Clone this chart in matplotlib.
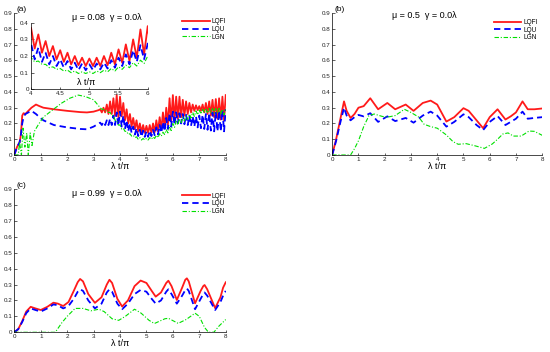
import numpy as np
import matplotlib
matplotlib.use('Agg')
import matplotlib.pyplot as plt

plt.rcParams['font.family'] = ['Liberation Sans', 'DejaVu Sans']

# ---- panel (a): mu = 0.08 ----
xa_start = [0, 0.1, 0.2, 0.25, 0.3, 0.35, 0.42, 0.53, 0.65, 0.82, 0.95, 1.1, 1.5, 2.0, 2.5, 2.75, 3.0, 3.1, 3.2]
lqfi_a_start = [0, 0.05, 0.08, 0.13, 0.25, 0.265, 0.26, 0.28, 0.3, 0.32, 0.31, 0.3, 0.29, 0.28, 0.272, 0.27, 0.275, 0.28, 0.285]
lqu_a_start = [0, 0.05, 0.08, 0.13, 0.2, 0.24, 0.26, 0.27, 0.28, 0.26, 0.24, 0.22, 0.19, 0.175, 0.165, 0.163, 0.18, 0.19, 0.2]

xg_a_start = [0, 0.15, 0.2, 0.27, 0.33, 0.4, 0.47, 0.53, 0.6, 0.67, 0.76, 0.9, 1.1, 1.48, 1.8, 2.1, 2.42, 2.7, 3.0, 3.2]
lgn_a_start = [0, 0, 0.08, 0.0, 0.17, 0.05, 0.14, 0.0, 0.14, 0.06, 0.15, 0.19, 0.24, 0.29, 0.33, 0.36, 0.38, 0.37, 0.35, 0.31]

# fast oscillating part, x = 3.25 ... 8.0, peaks and troughs
xa_osc = np.arange(3.25, 8.001, 0.0625)
lqfi_a_osc = [0.29, 0.27, 0.30, 0.27, 0.32, 0.26, 0.34, 0.26, 0.36, 0.25,
              0.38, 0.24, 0.37, 0.245, 0.33, 0.22, 0.29, 0.20, 0.26, 0.18,
              0.235, 0.165, 0.22, 0.15, 0.20, 0.145, 0.19, 0.14, 0.185, 0.14,
              0.19, 0.14, 0.20, 0.145, 0.22, 0.15, 0.24, 0.16, 0.27, 0.17,
              0.30, 0.19, 0.36, 0.21, 0.38, 0.22, 0.37, 0.23, 0.37, 0.24,
              0.35, 0.25, 0.34, 0.26, 0.33, 0.27, 0.32, 0.28, 0.315, 0.285,
              0.31, 0.28, 0.32, 0.27, 0.33, 0.26, 0.34, 0.25, 0.35, 0.24,
              0.355, 0.23, 0.36, 0.225, 0.37, 0.22, 0.38]
lqu_a_osc = [0.205, 0.19, 0.21, 0.19, 0.22, 0.19, 0.23, 0.19, 0.25, 0.19,
             0.27, 0.185, 0.275, 0.18, 0.25, 0.165, 0.22, 0.15, 0.20, 0.14,
             0.18, 0.13, 0.17, 0.12, 0.16, 0.115, 0.155, 0.115, 0.15, 0.115,
             0.155, 0.12, 0.16, 0.125, 0.175, 0.13, 0.19, 0.14, 0.21, 0.15,
             0.235, 0.165, 0.265, 0.18, 0.275, 0.19, 0.27, 0.20, 0.265, 0.20,
             0.26, 0.195, 0.255, 0.19, 0.25, 0.185, 0.245, 0.18, 0.245, 0.175,
             0.25, 0.17, 0.255, 0.165, 0.26, 0.16, 0.265, 0.155, 0.27, 0.15,
             0.275, 0.15, 0.28, 0.15, 0.285, 0.15, 0.29]
lgn_a_osc = [0.30, 0.29, 0.29, 0.28, 0.28, 0.27, 0.27, 0.25, 0.25, 0.22,
             0.22, 0.19, 0.19, 0.165, 0.17, 0.15, 0.15, 0.13, 0.135, 0.12,
             0.125, 0.11, 0.115, 0.10, 0.11, 0.095, 0.105, 0.095, 0.105, 0.095,
             0.11, 0.10, 0.115, 0.105, 0.125, 0.11, 0.135, 0.12, 0.145, 0.13,
             0.16, 0.14, 0.175, 0.155, 0.20, 0.175, 0.215, 0.19, 0.23, 0.205,
             0.24, 0.215, 0.25, 0.225, 0.26, 0.235, 0.27, 0.245, 0.28, 0.255,
             0.285, 0.26, 0.29, 0.265, 0.29, 0.265, 0.295, 0.265, 0.295, 0.265,
             0.295, 0.265, 0.295, 0.26, 0.29, 0.255, 0.29]

# ---- panel (b): mu = 0.5 ----
xb = [0, 0.15, 0.3, 0.45, 0.55, 0.7, 0.85, 1.0, 1.2, 1.45, 1.75, 2.1, 2.4, 2.8, 3.1, 3.45, 3.75, 4.0,
      4.35, 4.65, 5.0, 5.2, 5.5, 5.75, 6.0, 6.3, 6.6, 6.8, 7.0, 7.25, 7.45, 7.7, 8.0]
lqfi_b = [0, 0.1, 0.22, 0.34, 0.28, 0.235, 0.26, 0.3, 0.31, 0.36, 0.29, 0.33, 0.29, 0.32, 0.28, 0.33, 0.345, 0.32,
          0.212, 0.24, 0.297, 0.28, 0.22, 0.17, 0.24, 0.29, 0.225, 0.245, 0.27, 0.34, 0.29, 0.29, 0.295]
lqu_b = [0, 0.09, 0.2, 0.3, 0.25, 0.22, 0.24, 0.254, 0.245, 0.265, 0.21, 0.245, 0.215, 0.235, 0.205, 0.25, 0.275, 0.25,
         0.18, 0.21, 0.258, 0.24, 0.19, 0.158, 0.21, 0.247, 0.19, 0.21, 0.23, 0.275, 0.23, 0.235, 0.24]

xg_b = [0, 0.7, 0.85, 1.0, 1.2, 1.4, 1.6, 1.9, 2.1, 2.4, 2.75, 3.0, 3.3, 3.5, 3.75, 4.0, 4.35, 4.6, 4.8, 5.1,
        5.4, 5.8, 6.1, 6.3, 6.5, 6.7, 6.9, 7.2, 7.5, 7.7, 8.0]
lgn_b = [0, 0, 0.04, 0.09, 0.18, 0.25, 0.26, 0.245, 0.24, 0.25, 0.29, 0.27, 0.24, 0.195, 0.18, 0.17, 0.127, 0.085, 0.068, 0.072,
         0.06, 0.042, 0.07, 0.1, 0.133, 0.14, 0.12, 0.12, 0.152, 0.15, 0.125]

# ---- panel (c): mu = 0.99 ----
xc = [0, 0.15, 0.3, 0.45, 0.62, 0.8, 1.0, 1.25, 1.48, 1.65, 1.85, 2.05, 2.25, 2.4, 2.49, 2.6,
      2.8, 3.05, 3.3, 3.5, 3.6, 3.7, 3.9, 4.08, 4.3, 4.55, 4.78, 5.0, 5.2, 5.35, 5.55, 5.75,
      5.83, 5.95, 6.15, 6.35, 6.47, 6.53, 6.6, 6.84, 7.05, 7.15, 7.2, 7.3, 7.6, 7.8, 7.9, 8.0]
lqfi_c = [0, 0.02, 0.07, 0.13, 0.16, 0.15, 0.14, 0.16, 0.186, 0.18, 0.165, 0.19, 0.26, 0.315, 0.335, 0.32,
          0.24, 0.185, 0.22, 0.3, 0.33, 0.31, 0.21, 0.162, 0.2, 0.29, 0.325, 0.31, 0.26, 0.224, 0.25, 0.31,
          0.324, 0.29, 0.203, 0.28, 0.33, 0.339, 0.32, 0.182, 0.26, 0.29, 0.297, 0.27, 0.152, 0.22, 0.28, 0.314]
lqu_c = [0, 0.02, 0.065, 0.12, 0.15, 0.14, 0.13, 0.15, 0.175, 0.17, 0.15, 0.165, 0.21, 0.255, 0.27, 0.26,
         0.2, 0.15, 0.18, 0.25, 0.27, 0.255, 0.18, 0.145, 0.18, 0.24, 0.266, 0.255, 0.21, 0.18, 0.2, 0.255,
         0.27, 0.24, 0.18, 0.23, 0.265, 0.275, 0.26, 0.145, 0.21, 0.24, 0.25, 0.23, 0.14, 0.19, 0.23, 0.26]

xg_c = [0, 1.55, 1.8, 2.0, 2.3, 2.6, 2.9, 3.2, 3.4, 3.7, 3.95, 4.2, 4.55, 4.8, 5.1, 5.3, 5.7, 5.83, 6.2, 6.5,
        6.84, 7.0, 7.2, 7.35, 7.55, 7.75, 8.0]
lgn_c = [0, 0, 0.06, 0.1, 0.15, 0.15, 0.135, 0.145, 0.13, 0.085, 0.075, 0.1, 0.145, 0.12, 0.075, 0.055, 0.085, 0.088, 0.056, 0.08,
         0.12, 0.1, 0.03, 0.0, 0.0, 0.04, 0.08]

labels = ['LQFI', 'LQU', 'LGN']
xticks = [0, 1, 2, 3, 4, 5, 6, 7, 8]
yticks = [0, 0.1, 0.2, 0.3, 0.4, 0.5, 0.6, 0.7, 0.8, 0.9]

red_style = dict(color='#ff1a1a', lw=1.3)
blue_style = dict(color='#0000ff', lw=1.3, ls=(0, (3.5, 2.2)))
green_style = dict(color='#00e000', lw=0.8, ls=(0, (4, 1.6, 1, 1.6)))


def style_axes(ax, fs=4.5):
    for s in ['top', 'right']:
        ax.spines[s].set_visible(False)
    for s in ['left', 'bottom']:
        ax.spines[s].set_linewidth(0.5)
    ax.tick_params(direction='in', length=1.8, width=0.5, labelsize=fs, pad=1.5, colors='#222222')


def main_panel(ax, x1, r, b, xg, g, tag, title, ty, leg_anchor):
    ax.plot(x1, r, label=labels[0], **red_style)
    ax.plot(x1, b, label=labels[1], **blue_style)
    ax.plot(xg, g, label=labels[2], **green_style)
    ax.set_xlim(0, 8)
    ax.set_ylim(0, 0.9)
    ax.set_xticks(xticks)
    ax.set_xticklabels([str(t) for t in xticks])
    ax.set_yticks(yticks)
    ax.set_yticklabels(['0'] + ['%.1f' % t for t in yticks[1:]])
    style_axes(ax)
    ax.set_xlabel('λ t/π', fontsize=6.5, labelpad=0)
    ax.text(3.5, ty, title, fontsize=6.5, ha='center', va='center')
    ax.text(0.012, 1.0, tag, transform=ax.transAxes, fontsize=6, va='bottom', ha='left')
    ax.legend(loc='upper left', bbox_to_anchor=leg_anchor, frameon=False, fontsize=4.7,
              handlelength=4.2, handletextpad=0.3, labelspacing=0.12, borderpad=0, borderaxespad=0)


fig = plt.figure(figsize=(5.5, 3.52), dpi=100)

ax_a = fig.add_axes([0.026, 0.5597, 0.3844, 0.403])
ax_b = fig.add_axes([0.604, 0.5597, 0.3818, 0.403])
ax_c = fig.add_axes([0.026, 0.056, 0.3844, 0.407])

xa = list(xa_start) + list(xa_osc)
main_panel(ax_a, xa, lqfi_a_start + lqfi_a_osc, lqu_a_start + lqu_a_osc,
           list(xg_a_start) + list(xa_osc), lgn_a_start + lgn_a_osc,
           '(a)', 'μ = 0.08  γ = 0.0λ', 0.87, (0.795, 0.965))
main_panel(ax_b, xb, lqfi_b, lqu_b, xg_b, lgn_b,
           '(b)', 'μ = 0.5  γ = 0.0λ', 0.885, (0.77, 0.96))
main_panel(ax_c, xc, lqfi_c, lqu_c, xg_c, lgn_c,
           '(c)', 'μ = 0.99  γ = 0.0λ', 0.875, (0.795, 0.975))

# inset of panel (a)
ax_in = fig.add_axes([0.0564, 0.7463, 0.2122, 0.189])
ax_in.plot(xa_osc, lqfi_a_osc, **red_style)
ax_in.plot(xa_osc, lqu_a_osc, **blue_style)
ax_in.plot(xa_osc, lgn_a_osc, **green_style)
ax_in.set_xlim(4, 6)
ax_in.set_ylim(0, 0.4)
ax_in.set_xticks([4, 4.5, 5, 5.5, 6])
ax_in.set_xticklabels(['4', '4.5', '5', '5.5', '6'])
ax_in.set_yticks([0, 0.1, 0.2, 0.3, 0.4])
ax_in.set_yticklabels(['0', '0.1', '0.2', '0.3', '0.4'])
style_axes(ax_in)
ax_in.text(0.47, 0.1, 'λ t/π', transform=ax_in.transAxes, fontsize=6.5, ha='center', va='center')

fig.savefig('out.png', dpi=100)
